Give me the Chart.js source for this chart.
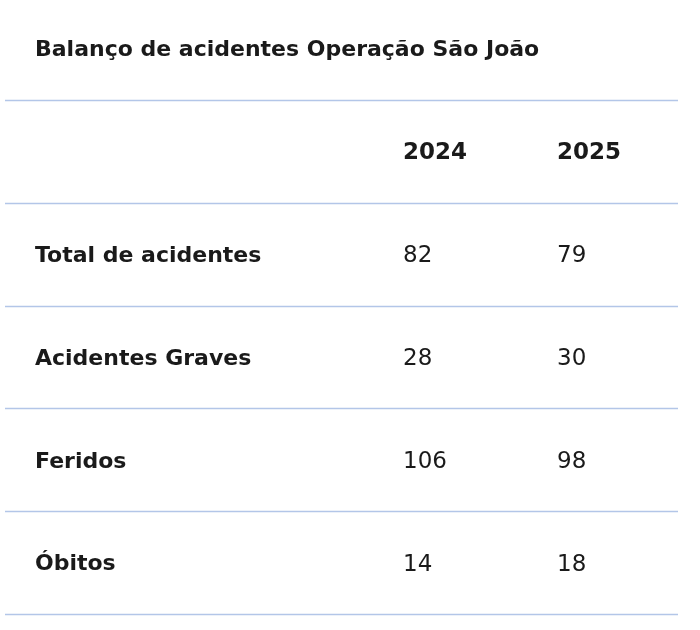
<!DOCTYPE html>
<html>
<head>
<meta charset="utf-8">
<script src="https://cdn.jsdelivr.net/npm/chart.js@4/dist/chart.umd.min.js"></script>
<style>
  body { margin: 0; background: #fff; }
  #wrap { width: 700px; height: 630px; }
</style>
</head>
<body>
<div id="wrap"><canvas id="table"></canvas></div>
<script>
const title = 'Balanço de acidentes Operação São João';
const years = ['2024', '2025'];
const rowLabels = ['Total de acidentes', 'Acidentes Graves', 'Feridos', 'Óbitos'];
const values2024 = [82, 28, 106, 14];
const values2025 = [79, 30, 98, 18];

// column x positions (in x-scale units) for label, 2024, 2025
const colX = [30, 398, 552];
const FONT = '"DejaVu Sans", sans-serif';
const LINE = '#b3c6e8';

const categories = ['header'].concat(rowLabels);

const tablePlugin = {
    id: 'tablePlugin',
    afterDraw(chart) {
        const ctx = chart.ctx;
        const x = chart.scales.x, y = chart.scales.y;
        const area = chart.chartArea;
        ctx.save();

        ctx.fillStyle = '#1a1a1a';
        ctx.font = 'bold 22px ' + FONT;
        ctx.textBaseline = 'middle';
        ctx.fillText(title, x.getPixelForValue(colX[0]), 50);

        // separator lines: top of each row plus bottom
        ctx.strokeStyle = LINE;
        ctx.lineWidth = 1.5;
        const half = (y.getPixelForValue(1) - y.getPixelForValue(0)) / 2;
        for (let i = 0; i <= categories.length; i++) {
            const py = Math.round(y.getPixelForValue(i) - half) + 0.5;
            ctx.beginPath();
            ctx.moveTo(area.left, py);
            ctx.lineTo(area.right, py);
            ctx.stroke();
        }

        ctx.font = 'bold 23px ' + FONT;
        years.forEach((yr, j) => {
            ctx.fillText(yr, x.getPixelForValue(colX[j + 1]), y.getPixelForValue(0) + 2);
        });

        rowLabels.forEach((lab, i) => {
            const py = y.getPixelForValue(i + 1) + 2;
            ctx.font = 'bold 22px ' + FONT;
            ctx.fillText(lab, x.getPixelForValue(colX[0]), py);
            ctx.font = '23px ' + FONT;
            ctx.fillText(String(values2024[i]), x.getPixelForValue(colX[1]), py);
            ctx.fillText(String(values2025[i]), x.getPixelForValue(colX[2]), py);
        });
        ctx.restore();
    }
};

new Chart(document.getElementById('table'), {
    type: 'scatter',
    data: {
        datasets: [{ data: [] }]
    },
    options: {
        responsive: true,
        maintainAspectRatio: false,
        animation: false,
        layout: { padding: { left: 5, right: 22, top: 100, bottom: 16 } },
        plugins: { legend: { display: false }, tooltip: { enabled: false } },
        scales: {
            x: { type: 'linear', min: 0, max: 673, display: false },
            y: { type: 'category', labels: categories, offset: true, display: false }
        }
    },
    plugins: [tablePlugin]
});
</script>
</body>
</html>
